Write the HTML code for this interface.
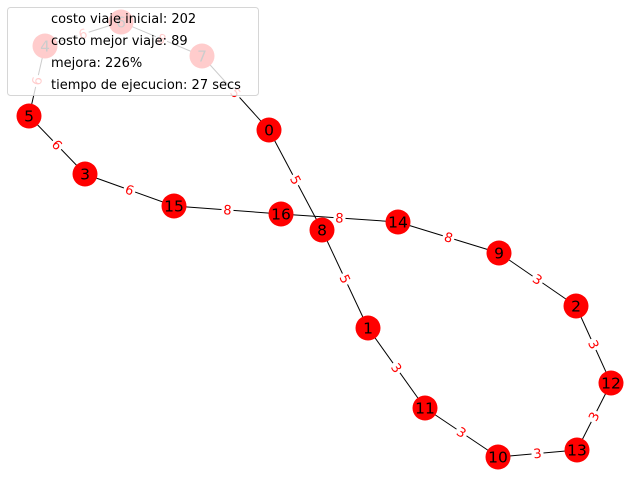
<!DOCTYPE html>
<html><head><meta charset="utf-8"><style>
html,body{margin:0;padding:0;background:#fff;}
svg{display:block;font-family:"DejaVu Sans","Liberation Sans",sans-serif;}
</style></head><body>
<svg id="chart" width="640" height="480" viewBox="0 0 640 480" xmlns="http://www.w3.org/2000/svg">
<g id="edges"></g>
<g id="elabels"></g>
<g id="nodes"></g>
<g>
<rect x="7.5" y="7.5" width="251" height="88" rx="3" fill="#fff" fill-opacity="0.8" stroke="#ccc" stroke-opacity="0.8"/>
<text x="51" y="23" font-size="13" fill="#000">costo viaje inicial: 202</text>
<text x="51" y="45" font-size="13" fill="#000">costo mejor viaje: 89</text>
<text x="51" y="67" font-size="13" fill="#000">mejora: 226%</text>
<text x="51" y="89" font-size="13" fill="#000">tiempo de ejecucion: 27 secs</text>
</g>
</svg>
<script>
const nodeIds=[0,1,2,3,4,5,6,7,8,9,10,11,12,13,14,15,16];
const nodeX=[269,368,576,85,45,29,121,202,322,499,498,425,611,577,398,174,281];
const nodeY=[130,328,306,174,46,116,22,56,230,253,457,408,383,450,222,206,214];
const edgeFrom=[4,6,7,0,8,1,11,10,13,12,2,9,14,16,15,3,5];
const edgeTo=[6,7,0,8,1,11,10,13,12,2,9,14,16,15,3,5,4];
const edgeWeight=[6,8,5,5,5,3,3,3,3,3,3,8,8,8,6,6,6];
const NS="http://www.w3.org/2000/svg";
const eg=document.getElementById('edges'),lg=document.getElementById('elabels'),ng=document.getElementById('nodes');
function px(i){return nodeX[nodeIds.indexOf(i)];}
function py(i){return nodeY[nodeIds.indexOf(i)];}
edgeFrom.forEach((a,k)=>{
  const b=edgeTo[k];
  const l=document.createElementNS(NS,'line');
  
  
  l.setAttribute('x1',px(a));l.setAttribute('y1',py(a));l.setAttribute('x2',px(b));l.setAttribute('y2',py(b));
  l.setAttribute('stroke','#000');l.setAttribute('stroke-width','1');
  eg.appendChild(l);
  const mx=(px(a)+px(b))/2,my=(py(a)+py(b))/2;
  let ang=Math.atan2(py(b)-py(a),px(b)-px(a))*180/Math.PI;
  if(ang>90)ang-=180;if(ang<-90)ang+=180;
  const g=document.createElementNS(NS,'g');
  
  
  g.setAttribute('transform','translate('+mx+','+my+') rotate('+ang+')');
  const r=document.createElementNS(NS,'rect');
  r.setAttribute('x',-6);r.setAttribute('y',-8);r.setAttribute('width',12);r.setAttribute('height',16);r.setAttribute('fill','#fff');
  g.appendChild(r);
  const t=document.createElementNS(NS,'text');
  t.setAttribute('text-anchor','middle');t.setAttribute('y',4.5);t.setAttribute('font-size','13');t.setAttribute('fill','#f00');
  t.textContent=edgeWeight[k];
  g.appendChild(t);
  lg.appendChild(g);
});
nodeIds.forEach((id,i)=>{
  const g=document.createElementNS(NS,'g');
  
  
  const c=document.createElementNS(NS,'circle');
  c.setAttribute('cx',nodeX[i]);c.setAttribute('cy',nodeY[i]);c.setAttribute('r',12.5);c.setAttribute('fill','#f00');
  g.appendChild(c);
  const t=document.createElementNS(NS,'text');
  t.setAttribute('x',nodeX[i]);t.setAttribute('y',nodeY[i]+5.5);t.setAttribute('text-anchor','middle');t.setAttribute('font-size','15.5');t.setAttribute('fill','#000');
  t.textContent=id;
  g.appendChild(t);
  ng.appendChild(g);
});
</script>
</body></html>
